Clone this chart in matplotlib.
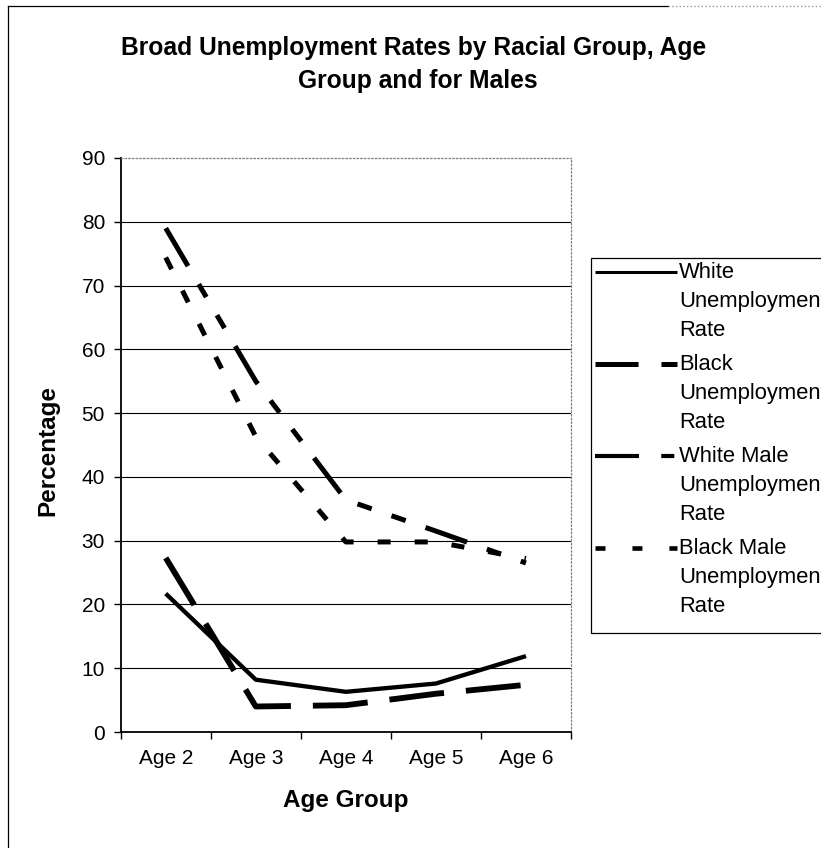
import matplotlib.pyplot as plt
from matplotlib.lines import Line2D
from matplotlib.patches import Rectangle

plt.rcParams['font.family'] = ['Liberation Sans', 'DejaVu Sans']
plt.rcParams['lines.scale_dashes'] = False

# broad unemployment rates (%) per age group
age_groups = ["Age 2", "Age 3", "Age 4", "Age 5", "Age 6"]
white = [21.7, 8.2, 6.3, 7.6, 11.9]
black = [27.3, 4.0, 4.2, 6.0, 7.4]
white_male = [79.0, 55.0, 36.4, 31.5, 26.5]
black_male = [74.4, 46.3, 29.8, 29.8, 27.2]

series_labels = [
    ["White", "Unemployment", "Rate"],
    ["Black", "Unemployment", "Rate"],
    ["White Male", "Unemployment", "Rate"],
    ["Black Male", "Unemployment", "Rate"],
]
y_ticks = list(range(0, 91, 10))

# line styles: (linewidth, dashes) for the plot and for the legend sample
plot_styles = [
    (3.1, None),
    (4.2, (39.6, 15.8)),
    (3.6, (31.7, 15.1, 10.8, 15.1, 10.8, 15.1)),
    (3.6, (9.4, 17.3)),
]
key_styles = [
    (2.2, None),
    (3.6, (31.0, 16.5)),
    (3.0, (31.7, 16.0, 9.4, 16.0)),
    (3.3, (7.2, 19.4)),
]

W, H = 821, 848


def fx(px):
    return px / W


def fy(py):
    return 1 - py / H


fig = plt.figure(figsize=(W / 100, H / 100), dpi=100)
ax = fig.add_axes([fx(120.7), fy(732), (571 - 120.7) / W, (732 - 158) / H])

x = list(range(len(age_groups)))
for values, (lw, dashes) in zip([white, black, white_male, black_male], plot_styles):
    line, = ax.plot(x, values, color="black", lw=lw,
                    solid_capstyle="butt", dash_capstyle="butt", zorder=3)
    if dashes:
        line.set_dashes(dashes)

# horizontal gridlines (top one is the dotted frame)
for v in y_ticks[1:-1]:
    ax.axhline(v, color="black", lw=0.8, zorder=1)

ax.set_xlim(-0.5, len(age_groups) - 0.5)
ax.set_ylim(0, 90)
ax.set_yticks(y_ticks)
ax.set_xticks([i - 0.5 for i in range(len(age_groups) + 1)])
ax.set_xticklabels([])
ax.set_xticks(x, minor=True)
ax.set_xticklabels(age_groups, minor=True)

ax.tick_params(axis="y", direction="out", length=5, width=1, pad=6.3, labelsize=15)
ax.tick_params(axis="x", which="major", direction="out", length=5, width=1)
ax.tick_params(axis="x", which="minor", length=0, pad=12.5, labelsize=15)

for side in ["top", "right"]:
    ax.spines[side].set_color("#808080")
    ax.spines[side].set_linestyle(":")
    ax.spines[side].set_linewidth(0.9)
for side in ["left", "bottom"]:
    ax.spines[side].set_linewidth(1.3)

# titles
fig.text(fx(414), fy(55), "Broad Unemployment Rates by Racial Group, Age",
         ha="center", va="baseline", fontsize=17.7, fontweight="bold")
fig.text(fx(418), fy(88), "Group and for Males",
         ha="center", va="baseline", fontsize=17.7, fontweight="bold")
fig.text(fx(48), fy(450), "Percentage", rotation=90,
         ha="center", va="center", fontsize=17.5, fontweight="bold")
fig.text(fx(346), fy(801), "Age Group",
         ha="center", va="center", fontsize=17.5, fontweight="bold")

# legend box
fig.add_artist(Rectangle((fx(591), fy(633)), fx(260), (633 - 258) / H,
                         transform=fig.transFigure, fill=False,
                         edgecolor="black", lw=0.9))
row_y = [272, 364, 456, 548]
for ry, lines, (lw, dashes) in zip(row_y, series_labels, key_styles):
    key = Line2D([fx(595), fx(677)], [fy(ry), fy(ry)], transform=fig.transFigure,
                 color="black", lw=lw, solid_capstyle="butt", dash_capstyle="butt")
    if dashes:
        key.set_dashes(dashes)
    fig.add_artist(key)
    for k, txt in enumerate(lines):
        fig.text(fx(679), fy(ry + 1 + 28.5 * k), txt, ha="left", va="center",
                 fontsize=15.8)

# chart area border
fig.add_artist(Line2D([fx(8), fx(8)], [fy(6), 0], transform=fig.transFigure,
                      color="black", lw=0.9))
fig.add_artist(Line2D([fx(8), fx(668)], [fy(6), fy(6)], transform=fig.transFigure,
                      color="black", lw=0.9))
fig.add_artist(Line2D([fx(668), 1], [fy(6), fy(6)], transform=fig.transFigure,
                      color="#909090", lw=0.9, ls=":"))

fig.savefig("out.png", dpi=100)
